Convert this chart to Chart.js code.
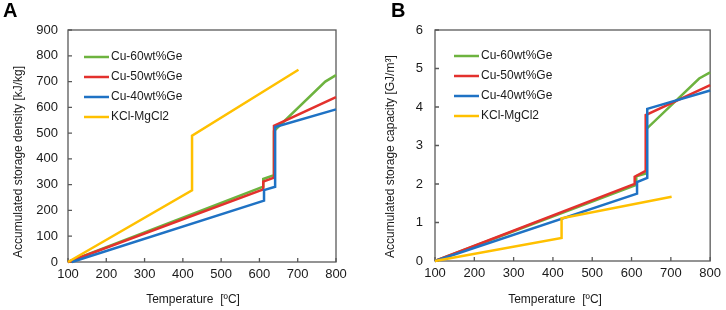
<!DOCTYPE html>
<html lang="en">
<head>
<meta charset="UTF-8">
<title>Accumulated storage density and capacity</title>
<script src="https://cdn.jsdelivr.net/npm/chart.js"></script>
<style>
  body { margin: 0; background: #fff; }
  .panel { position: absolute; top: 0; width: 363px; height: 310px; }
  #panelA { left: 0; }
  #panelB { left: 363px; }
</style>
</head>
<body>
<div class="panel" id="panelA"><canvas id="chartA" width="363" height="310"></canvas></div>
<div class="panel" id="panelB"><canvas id="chartB" width="363" height="310"></canvas></div>
<script>
const seriesNames = ['Cu-60wt%Ge', 'Cu-50wt%Ge', 'Cu-40wt%Ge', 'KCl-MgCl2'];
const seriesColors = ['#6db33f', '#e3312d', '#1f72c4', '#ffc000'];
const xTicks = [100, 200, 300, 400, 500, 600, 700, 800];

// panel A - storage density [kJ/kg]
const a60Temp = [100, 610, 610, 638, 638, 772, 800];
const a60Val = [0, 292, 322, 337, 508, 700, 725];
const a50Temp = [100, 610, 610, 638, 638, 800];
const a50Val = [0, 282, 312, 327, 528, 640];
const a40Temp = [110, 612, 612, 641, 641, 800];
const a40Val = [0, 238, 279, 292, 524, 592];
const aKclTemp = [100, 424, 424, 702];
const aKclVal = [0, 278, 490, 746];
const aYTicks = [0, 100, 200, 300, 400, 500, 600, 700, 800, 900];

// panel B - storage capacity [GJ/m3]
const b60Temp = [100, 612, 612, 638, 638, 772, 800];
const b60Val = [0, 1.98, 2.2, 2.28, 3.43, 4.74, 4.9];
const b50Temp = [100, 608, 608, 636, 636, 800];
const b50Val = [0, 2.0, 2.19, 2.34, 3.79, 4.57];
const b40Temp = [100, 614, 614, 640, 640, 800];
const b40Val = [0, 1.75, 2.05, 2.16, 3.95, 4.43];
const bKclTemp = [100, 422, 422, 702];
const bKclVal = [0, 0.6, 1.11, 1.67];
const bYTicks = [0, 1, 2, 3, 4, 5, 6];

const FONT = "'Liberation Sans', Arial, sans-serif";
const textColor = '#1a1a1a';
const frameColor = '#595959';

function toPoints(xs, ys) {
  return xs.map((x, i) => ({ x: x, y: ys[i] }));
}

// frame, inward tick marks, legend and titles
const decor = {
  id: 'decor',
  beforeDatasetsDraw(chart, args, opts) {
    const ctx = chart.ctx, a = chart.chartArea;
    const xs = chart.scales.x, ys = chart.scales.y;
    ctx.save();
    ctx.strokeStyle = frameColor;
    ctx.lineWidth = 1.3;
    ctx.strokeRect(a.left, a.top, a.right - a.left, a.bottom - a.top);
    ctx.beginPath();
    ys.ticks.forEach(t => {
      const y = ys.getPixelForValue(t.value);
      ctx.moveTo(a.left, y); ctx.lineTo(a.left + 4, y);
    });
    xs.ticks.forEach(t => {
      const x = xs.getPixelForValue(t.value);
      ctx.moveTo(x, a.bottom); ctx.lineTo(x, a.bottom - 4);
    });
    ctx.stroke();
    ctx.restore();
  },
  afterDraw(chart, args, opts) {
    const ctx = chart.ctx, a = chart.chartArea;
    ctx.save();
    // legend
    ctx.font = '12px ' + FONT;
    ctx.textBaseline = 'middle';
    ctx.textAlign = 'left';
    chart.data.datasets.forEach((ds, i) => {
      const y = a.top + opts.legendTop + i * 20;
      ctx.strokeStyle = ds.borderColor;
      ctx.lineWidth = 2.5;
      ctx.beginPath();
      ctx.moveTo(a.left + opts.legendLeft, y);
      ctx.lineTo(a.left + opts.legendLeft + 25, y);
      ctx.stroke();
      ctx.fillStyle = textColor;
      ctx.fillText(ds.label, a.left + opts.legendLeft + 27, y);
    });
    // x title
    ctx.textAlign = 'center';
    ctx.fillText(opts.xTitle, opts.xTitleX, 300);
    // y title
    ctx.save();
    ctx.translate(opts.yTitleX, 258);
    ctx.rotate(-Math.PI / 2);
    ctx.textAlign = 'left';
    ctx.fillText(opts.yTitle, 0, 0);
    ctx.restore();
    // panel letter
    ctx.font = 'bold 20px ' + FONT;
    ctx.textAlign = 'left';
    ctx.textBaseline = 'alphabetic';
    ctx.fillStyle = '#000';
    ctx.fillText(opts.letter, opts.letterX, 17);
    ctx.restore();
  }
};

function makeChart(id, temps, vals, yTicks, geo, texts) {
  const datasets = seriesNames.map((name, i) => ({
    label: name,
    data: toPoints(temps[i], vals[i]),
    borderColor: seriesColors[i],
    borderWidth: 2.5,
    pointRadius: 0,
    tension: 0,
    fill: false,
    clip: 6,
    order: 4 - i
  }));
  return new Chart(document.getElementById(id), {
    type: 'line',
    data: { datasets: datasets },
    plugins: [decor],
    options: {
      responsive: false,
      animation: false,
      layout: { padding: { top: geo.top, right: geo.right, left: 0, bottom: 0 } },
      plugins: {
        legend: { display: false },
        tooltip: { enabled: false },
        decor: Object.assign({}, texts, { legendTop: geo.legendTop, legendLeft: geo.legendLeft })
      },
      scales: {
        x: {
          type: 'linear',
          min: xTicks[0], max: xTicks[xTicks.length - 1],
          afterBuildTicks: s => { s.ticks = xTicks.map(v => ({ value: v })); },
          afterFit: s => { s.height = geo.xHeight; },
          grid: { display: false, drawTicks: false },
          border: { display: false },
          ticks: { color: textColor, font: { family: FONT, size: 13 }, padding: 5, maxRotation: 0 }
        },
        y: {
          min: yTicks[0], max: yTicks[yTicks.length - 1],
          afterBuildTicks: s => { s.ticks = yTicks.map(v => ({ value: v })); },
          afterFit: s => { s.width = geo.yWidth; },
          grid: { display: false, drawTicks: false },
          border: { display: false },
          ticks: { color: textColor, font: { family: FONT, size: 13 }, padding: geo.yPad }
        }
      }
    }
  });
}

makeChart('chartA',
  [a60Temp, a50Temp, a40Temp, aKclTemp],
  [a60Val, a50Val, a40Val, aKclVal],
  aYTicks,
  { top: 30, right: 27, xHeight: 48, yWidth: 68, yPad: 10, legendTop: 27, legendLeft: 16 },
  { xTitle: 'Temperature  [ºC]', xTitleX: 193, yTitle: 'Accumulated storage density [kJ/kg]', yTitleX: 19, letter: 'A', letterX: 3 });

makeChart('chartB',
  [b60Temp, b50Temp, b40Temp, bKclTemp],
  [b60Val, b50Val, b40Val, bKclVal],
  bYTicks,
  { top: 30, right: 12, xHeight: 49, yWidth: 72, yPad: 12, legendTop: 26, legendLeft: 19 },
  { xTitle: 'Temperature  [ºC]', xTitleX: 192, yTitle: 'Accumulated storage capacity [GJ/m³]', yTitleX: 28, letter: 'B', letterX: 28 });
</script>
</body>
</html>
